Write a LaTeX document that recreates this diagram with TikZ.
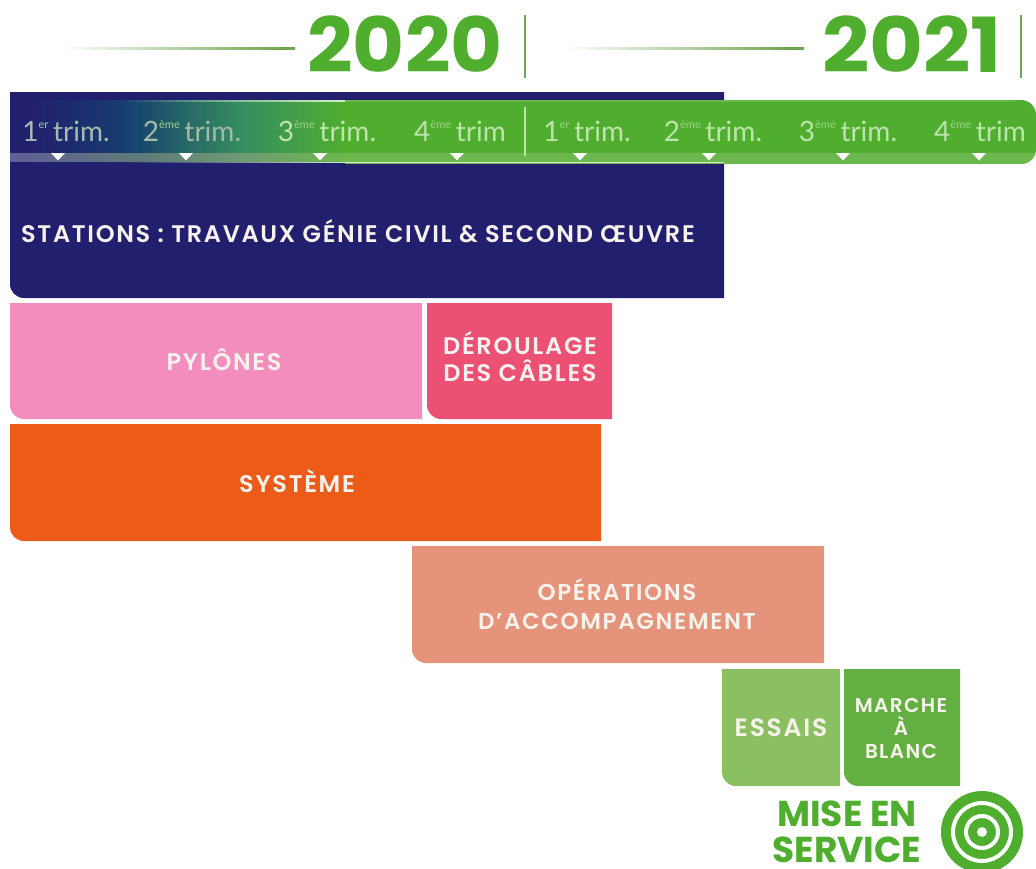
\documentclass[tikz,border=0pt]{standalone}
\usepackage{fontspec}
\setmainfont{Poppins}
\newfontfamily\capsf[LetterSpace=7]{Poppins SemiBold}
\newfontfamily\trimf{Lato}
\usetikzlibrary{fadings}
\definecolor{navy}{HTML}{221F6E}
\definecolor{grn}{HTML}{4FAE2E}
\definecolor{grnband}{HTML}{6CB84F}
\definecolor{pinkl}{HTML}{F28DBD}
\definecolor{pinkd}{HTML}{EC5075}
\definecolor{orng}{HTML}{EC5C18}
\definecolor{salmon}{HTML}{E5937A}
\definecolor{essaisc}{HTML}{8ABF62}
\definecolor{marchec}{HTML}{63AF42}
\definecolor{trimc}{HTML}{BFE3AC}
\definecolor{capc}{HTML}{F7F3EC}
\definecolor{barc}{HTML}{6FA653}
\pgfdeclarehorizontalshading{barshade}{100bp}{
  color(0bp)=(navy);
  color(28bp)=(navy);
  color(42bp)=(navy!80!cyan!80!black);
  color(60bp)=(navy!35!grn!85!cyan);
  color(75bp)=(grn);
  color(100bp)=(grn)}
\pgfdeclarehorizontalshading{bandshade}{100bp}{
  color(0bp)=(navy!72!white);
  color(25bp)=(navy!72!white);
  color(45bp)=(navy!55!grnband!85!white);
  color(60bp)=(navy!30!grnband!85!white);
  color(75bp)=(grnband);
  color(100bp)=(grnband)}
\pgfdeclarehorizontalshading{fadeline}{100bp}{
  color(0bp)=(white);
  color(25bp)=(white);
  color(28bp)=(white);
  color(55bp)=(barc!60!white);
  color(72bp)=(barc);
  color(100bp)=(barc)}
\tikzset{x=1pt,y=-1pt,
  caplabel/.style={text=capc,font=\capsf\fontsize{#1}{27}\selectfont,align=center,inner sep=0pt},
  caplabel/.default=24,
  trimlabel/.style={text=trimc,font=\trimf\fontsize{28}{30}\selectfont,inner sep=0pt,anchor=base},
  yearlabel/.style={text=grn,font=\bfseries\fontsize{76}{80}\selectfont,inner sep=0pt,anchor=base},
  tick/.style={fill=white,draw=none},
  edgefade/.style={fill=white!75!grn,path fading=west},
  sep/.style={draw=barc,line width=2.8pt}}
\newcommand{\trimtxt}[2]{#1\raisebox{0.45em}{\fontsize{11}{11}\selectfont\color{trimc!70!grn}#2}\,trim}
\newcommand{\blockfill}[5]{\fill[#1] (#2,#3) -- (#4,#3) -- (#4,#5) [rounded corners=14pt] -- (#2,#5) [sharp corners] -- cycle;}
\begin{document}
\begin{tikzpicture}
\useasboundingbox (0,0) rectangle (1036,868);
\fill[white] (0,0) rectangle (1036,868);
% years
\node[yearlabel] (y20) at (405,72) {\scalebox{1.05}[1]{2020}};
\node[yearlabel] (y21) at (912,72) {\scalebox{1.09}[1]{2021}};
\fill[shading=fadeline] (45,47.5) rectangle (295,49.5);
\fill[shading=fadeline] (548,47.5) rectangle (804,49.5);
\draw[sep] (525,15) -- (525,78);
\draw[sep] (1021,15) -- (1021,78);
% navy block
\blockfill{navy}{10}{92}{724}{298}
\node[caplabel] (stations) at (358,231) {STATIONS : TRAVAUX GÉNIE CIVIL \& SECOND ŒUVRE};
% green band
\begin{scope}
\clip[rounded corners=15pt] (-40,100) rectangle (1036,164);
\fill[grn] (340,100) rectangle (1036,164);
\fill[grnband] (340,153) rectangle (1036,164);
\end{scope}
\fill[shading=barshade] (10,100) rectangle (345,153);
\fill[shading=bandshade] (10,153) rectangle (345,162);
\fill[navy] (10,162) rectangle (345,164);
\fill[edgefade] (120,100) rectangle (345,102);
\fill[grnband] (345,100) rectangle (1015,102);
\fill[edgefade] (120,161.5) rectangle (345,163);
\fill[white!75!grn] (345,161.5) rectangle (724,163);
\draw[trimc,line width=1.5pt] (525,107) -- (525,156);
% trimester labels
\node[trimlabel,text=trimc!70!navy!80!white] (t1) at (66,141) {\trimtxt{1}{er}.};
\node[trimlabel,text=trimc!75!navy!90!white] (t2) at (192,141) {\trimtxt{2}{ème}.};
\node[trimlabel] (t3) at (327,141) {\trimtxt{3}{ème}.};
\node[trimlabel] (t4) at (460,141) {\trimtxt{4}{ème}};
\node[trimlabel] (t5) at (587,141) {\trimtxt{1}{er}.};
\node[trimlabel] (t6) at (713,141) {\trimtxt{2}{ème}.};
\node[trimlabel] (t7) at (848,141) {\trimtxt{3}{ème}.};
\node[trimlabel] (t8) at (980,141) {\trimtxt{4}{ème}};
\foreach \x in {58,186,320,457,580,709,843,979}
  \fill[tick] (\x-7,153) -- (\x+7,153) -- (\x,160.5) -- cycle;
% pylones
\blockfill{pinkl}{10}{303}{422}{419}
\node[caplabel] (pyl) at (224,360) {PYLÔNES};
\blockfill{pinkd}{427}{303}{612}{419}
\node[caplabel] (der) at (520,357) {DÉROULAGE\\DES CÂBLES};
% systeme
\blockfill{orng}{10}{424}{601}{541}
\node[caplabel] (sys) at (297,481) {SYSTÈME};
% operations
\blockfill{salmon}{412}{546}{824}{663}
\node[caplabel=23,font=\capsf\fontsize{23}{29}\selectfont] (ope) at (617,604) {OPÉRATIONS\\D’ACCOMPAGNEMENT};
% essais, marche
\blockfill{essaisc}{722}{669}{840}{786}
\node[caplabel=25] (ess) at (781,728) {ESSAIS};
\blockfill{marchec}{844}{669}{960}{786}
\node[caplabel=20,font=\capsf\fontsize{20}{23}\selectfont] (mar) at (901,728) {MARCHE\\À\\BLANC};
% mise en service
\node[text=grn,font=\bfseries\fontsize{36}{36}\selectfont,inner sep=0pt,anchor=base] (mes) at (847,862) {\shortstack{MISE EN\\[7pt]SERVICE}};
\fill[grn] (982,832) circle[radius=41];
\draw[white,line width=4pt] (982,832) circle[radius=29];
\draw[white,line width=4pt] (982,832) circle[radius=16];
\fill[white] (982,832) circle[radius=5];
\end{tikzpicture}
\end{document}
